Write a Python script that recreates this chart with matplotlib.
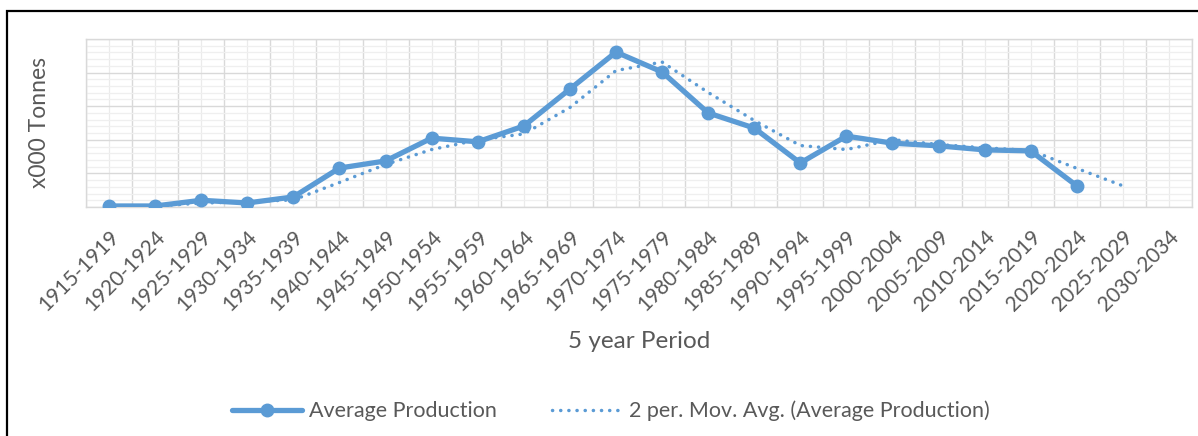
import matplotlib
matplotlib.use("Agg")
import matplotlib.pyplot as plt
import numpy as np
import pandas as pd
from matplotlib.patches import Rectangle
from matplotlib.ticker import MultipleLocator, FixedLocator

periods = ["1915-1919", "1920-1924", "1925-1929", "1930-1934", "1935-1939",
           "1940-1944", "1945-1949", "1950-1954", "1955-1959", "1960-1964",
           "1965-1969", "1970-1974", "1975-1979", "1980-1984", "1985-1989",
           "1990-1994", "1995-1999", "2000-2004", "2005-2009", "2010-2014",
           "2015-2019", "2020-2024", "2025-2029", "2030-2034"]
avg_production = [0.03, 0.03, 0.20, 0.12, 0.30, 1.16, 1.37, 2.05, 1.94, 2.41,
                  3.51, 4.61, 4.02, 2.80, 2.35, 1.31, 2.11, 1.90, 1.82, 1.70,
                  1.67, 0.63, np.nan, np.nan]

BLUE = "#5B9BD5"
GRAY = "#595959"
plt.rcParams['font.family'] = ['Lato', 'DejaVu Sans']

W, H = 1198, 436
fig = plt.figure(figsize=(W / 100, H / 100), dpi=100)
L, R, T, B = 86, 1192, 39, 207
ax = fig.add_axes([L / W, 1 - B / H, (R - L) / W, (B - T) / H])

x = np.arange(len(periods))
s = pd.Series(avg_production)
mov = s.rolling(2, min_periods=1).mean()
mov.iloc[0] = np.nan
last_valid = s.last_valid_index()
mov.iloc[last_valid + 2:] = np.nan

ax.plot(x, avg_production, color=BLUE, lw=3.8, marker='o', ms=9,
        solid_capstyle='round', label="Average Production", zorder=4)
ax.plot(x, mov, color=BLUE, lw=2.5, linestyle=(0, (0.05, 2.3)),
        dash_capstyle='round', label="2 per. Mov. Avg. (Average Production)", zorder=3)

ax.set_xlim(-0.5, len(periods) - 0.5)
ax.set_ylim(0, 5)
ax.yaxis.set_major_locator(MultipleLocator(1))
ax.yaxis.set_minor_locator(MultipleLocator(0.2))
ax.set_xticks(x)
ax.set_xticklabels(periods, rotation=45, ha='right', rotation_mode='anchor',
                   fontsize=15, color=GRAY)
ax.xaxis.set_minor_locator(FixedLocator(np.arange(-0.5, len(periods), 1.0)))
ax.tick_params(axis='both', which='both', length=0)
ax.tick_params(axis='x', which='major', pad=14)
ax.set_yticklabels([])

ax.grid(True, which='minor', axis='y', color='#EFEFEF', lw=0.9, zorder=0)
ax.grid(True, which='major', axis='y', color='#D9D9D9', lw=1.0, zorder=0)
ax.grid(True, which='minor', axis='x', color='#D9D9D9', lw=1.0, zorder=0)
ax.grid(True, which='major', axis='x', color='#EBEBEB', lw=0.9, zorder=0)
ax.set_axisbelow(True)
for sp in ax.spines.values():
    sp.set_color('#D9D9D9')
    sp.set_linewidth(1.0)

fig.text(40 / W, 1 - 123 / H, "x000 Tonnes", rotation=90, ha='center', va='center',
         fontsize=16.5, color=GRAY)
fig.text(639 / W, 1 - 341 / H, "5 year Period", ha='center', va='center',
         fontsize=17.5, color=GRAY)

leg = fig.legend(loc='center', bbox_to_anchor=(611 / W, 1 - 411 / H), ncol=2,
                 frameon=False, fontsize=15.5, handlelength=3.25, columnspacing=2.55,
                 handletextpad=0.33)
for t in leg.get_texts():
    t.set_color(GRAY)

fig.patches.append(Rectangle((7 / W, -0.1), 1.2, 1 - 11 / H + 0.1,
                             transform=fig.transFigure, fill=False,
                             edgecolor='black', lw=1.6, zorder=10))

fig.savefig("out.png", dpi=100)
